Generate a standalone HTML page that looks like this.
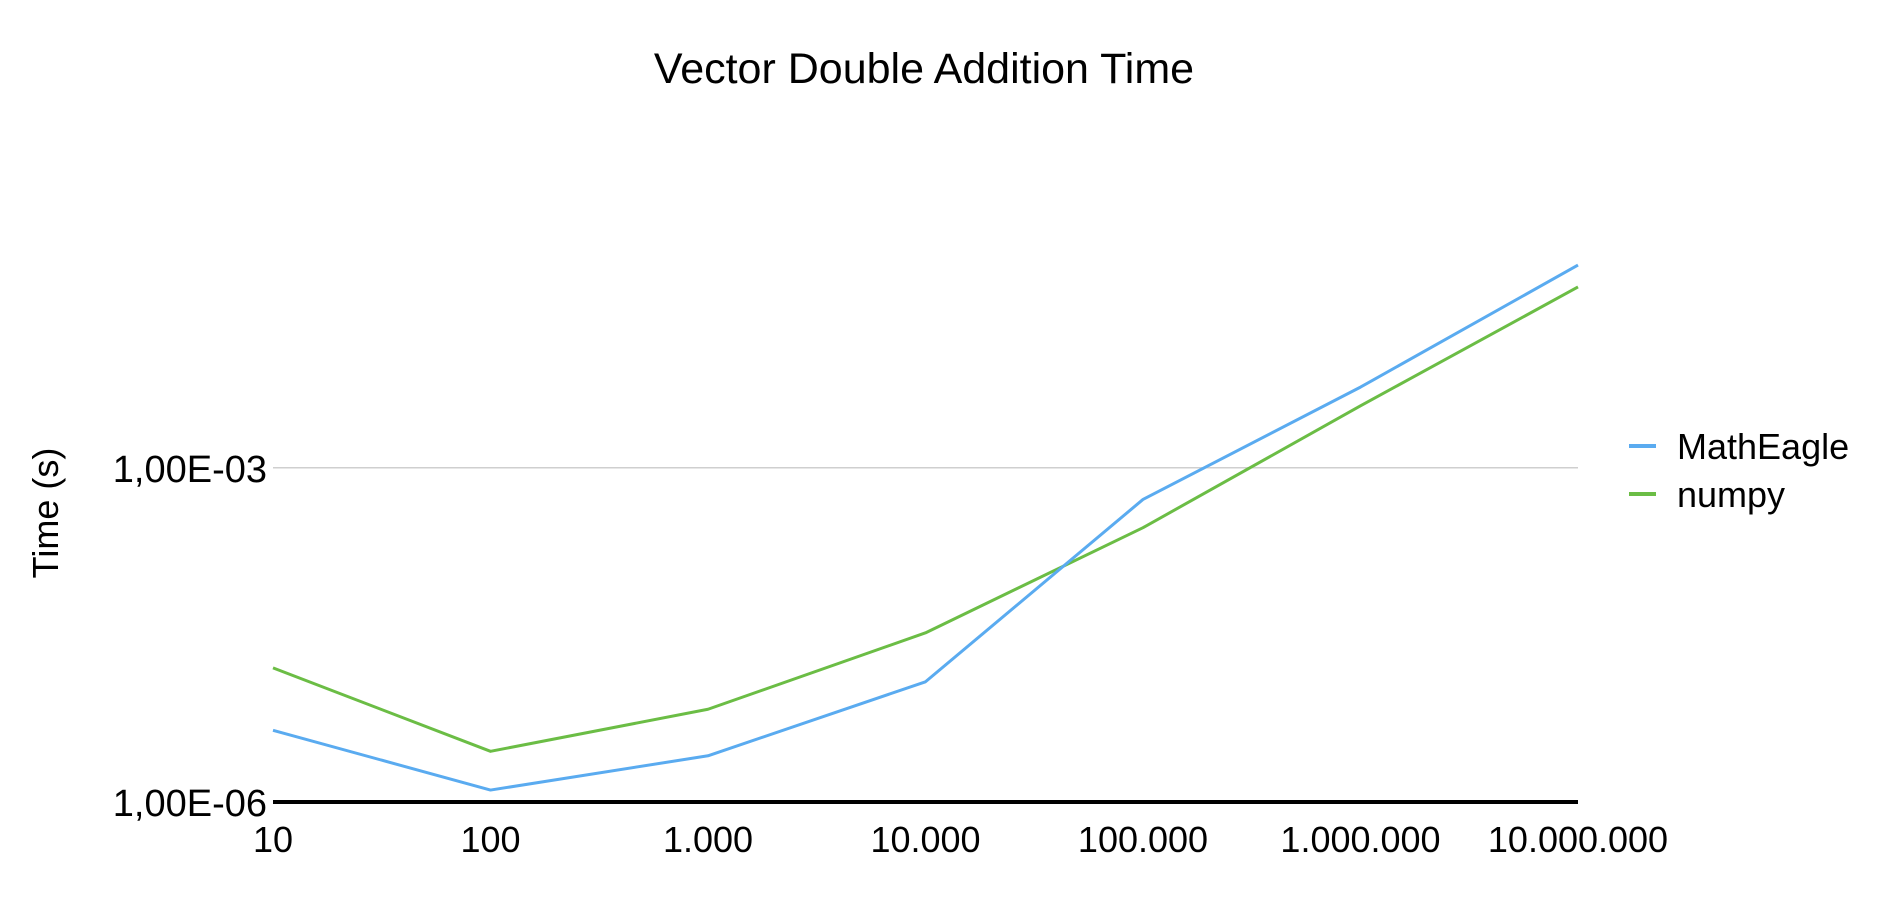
<!DOCTYPE html>
<html><head><meta charset="utf-8"><style>
html,body{margin:0;padding:0;background:#fff;}
svg{display:block;font-family:"Liberation Sans",sans-serif;}
</style></head><body>
<svg id="chart" width="1892" height="904" viewBox="0 0 1892 904">
<text x="924" y="83" text-anchor="middle" font-size="43" fill="#000">Vector Double Addition Time</text>
<text transform="translate(58,513) rotate(-90)" text-anchor="middle" font-size="36" fill="#000">Time (s)</text>
<g id="grid"></g><g id="series"></g><g id="ticks"></g>
<g>
<g><line x1="1629" y1="446" x2="1656" y2="446" stroke="#5aabf0" stroke-width="4"/><text x="1677" y="459" font-size="36">MathEagle</text></g>
<g><line x1="1629" y1="494" x2="1656" y2="494" stroke="#6bbd45" stroke-width="4"/><text x="1677" y="507" font-size="36">numpy</text></g>
</g>
</svg>
<script>
const categories=["10","100","1.000","10.000","100.000","1.000.000","10.000.000"];
const mathEagle=[4.4e-6,1.28e-6,2.6e-6,1.2e-5,5.2e-4,5.3e-3,6.6e-2];
const numpy=[1.6e-5,2.85e-6,6.8e-6,3.3e-5,2.9e-4,3.6e-3,4.2e-2];
const yTickValues=[1e-6,1e-3];
const yTickLabels=["1,00E-06","1,00E-03"];
const NS="http://www.w3.org/2000/svg";
const L=273,R=1578,Y0=802,DEC=111.4;
function xs(i){return L+i*(R-L)/(categories.length-1);}
function ys(v){return Y0-(Math.log10(v)+6)*DEC;}
function mk(t,a,p){const e=document.createElementNS(NS,t);for(const k in a)e.setAttribute(k,a[k]);p.appendChild(e);return e;}
const grid=document.getElementById('grid'),ser=document.getElementById('series'),tk=document.getElementById('ticks');
yTickValues.forEach((v,i)=>{
 const y=ys(v);
 if(i>0){const g=mk('line',{x1:L,x2:R,y1:y,y2:y,stroke:'#cfcfcf','stroke-width':1.5},grid);
 
 }
 const t=mk('text',{x:L-6,y:y+14,'text-anchor':'end','font-size':38},tk);t.textContent=yTickLabels[i];
 
 
});
categories.forEach((c,i)=>{
 const t=mk('text',{x:xs(i),y:852,'text-anchor':'middle','font-size':36},tk);t.textContent=c;
 
 
});
function line(d,col,name){
 const p=mk('polyline',{points:d.map((v,i)=>xs(i)+','+ys(v)).join(' '),fill:'none',stroke:col,'stroke-width':3,'stroke-linejoin':'round'},ser);
 
 
}
line(numpy,'#6bbd45','numpy-line');
line(mathEagle,'#5aabf0','matheagle-line');
const ax=mk('line',{x1:L,x2:R,y1:Y0,y2:Y0,stroke:'#000','stroke-width':4},tk);


</script>
</body></html>
